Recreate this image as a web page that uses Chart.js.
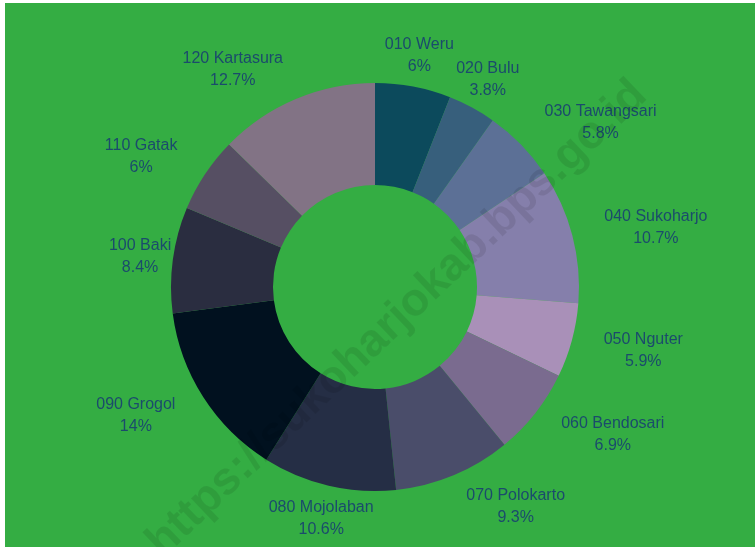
<!DOCTYPE html>
<html>
<head>
<meta charset="utf-8">
<script src="https://cdn.jsdelivr.net/npm/chart.js@4"></script>
<style>
  html, body { margin: 0; padding: 0; background: #fff; }
  #wrap { position: absolute; left: 5px; top: 3px; width: 750px; height: 544px; background: #34ad43; }
</style>
</head>
<body>
<div id="wrap"><canvas id="chartPie" width="750" height="544"></canvas></div>
<script>
const kecamatan = ["010 Weru", "020 Bulu", "030 Tawangsari", "040 Sukoharjo", "050 Nguter", "060 Bendosari",
  "070 Polokarto", "080 Mojolaban", "090 Grogol", "100 Baki", "110 Gatak", "120 Kartasura"];
const persen = [6, 3.8, 5.8, 10.7, 5.9, 6.9, 9.3, 10.6, 14, 8.4, 6, 12.7];
const warna = ["#0c4a5c", "#375f7c", "#5c7096", "#857fab", "#a990b8", "#7a6b8f",
  "#4a4d6a", "#252e45", "#01111f", "#2a2d40", "#564f63", "#827385"];
// how each label sits against its anchor point
const labelAlign = ["center", "center", "left", "left", "left", "left", "left", "center", "right", "center", "right", "right"];

const outerLabels = {
  id: "outerLabels",
  afterDatasetsDraw(chart) {
    const ctx = chart.ctx;
    const arcs = chart.getDatasetMeta(0).data;
    ctx.save();
    ctx.font = "16px 'Liberation Sans', Arial, sans-serif";
    ctx.fillStyle = "#1b4b6c";
    ctx.textAlign = "center";
    ctx.textBaseline = "middle";
    arcs.forEach((arc, i) => {
      const p = arc.getProps(["x", "y", "startAngle", "endAngle", "outerRadius"], true);
      const a = (p.startAngle + p.endAngle) / 2;
      const r = p.outerRadius + 33;
      let x = p.x + Math.cos(a) * r;
      const y = p.y + Math.sin(a) * r + 1;
      const l1 = kecamatan[i], l2 = persen[i] + "%";
      const hw = Math.max(ctx.measureText(l1).width, ctx.measureText(l2).width) / 2;
      if (labelAlign[i] === "left") x += hw;
      if (labelAlign[i] === "right") x -= hw;
      ctx.fillText(l1, x, y - 11);
      ctx.fillText(l2, x, y + 11);
    });
    ctx.restore();
  },
  afterDraw(chart) {
    const ctx = chart.ctx;
    ctx.save();
    ctx.translate(392, 316);
    ctx.rotate(-43.5 * Math.PI / 180);
    ctx.font = "bold 46px 'Liberation Sans', Arial, sans-serif";
    ctx.fillStyle = "rgba(0,0,0,0.09)";
    ctx.textAlign = "center";
    ctx.textBaseline = "middle";
    ctx.fillText("https://sukoharjokab.bps.go.id", 0, 0);
    ctx.restore();
  }
};

new Chart(document.getElementById("chartPie"), {
  type: "doughnut",
  data: {
    labels: kecamatan,
    datasets: [{ data: persen, backgroundColor: warna, borderWidth: 0 }]
  },
  options: {
    responsive: false,
    animation: false,
    cutout: "50%",
    layout: { padding: { left: 160, right: 170, top: 80, bottom: 56 } },
    plugins: { legend: { display: false }, tooltip: { enabled: false } }
  },
  plugins: [outerLabels]
});
</script>
</body>
</html>
